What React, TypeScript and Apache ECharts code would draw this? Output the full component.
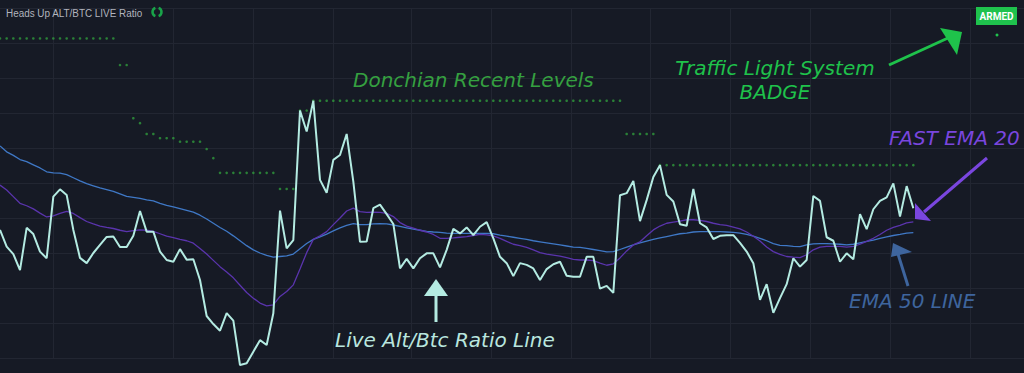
import React, { useEffect, useRef } from "react";
import * as echarts from "echarts";

// ---- data (arbitrary ratio units) ----
const ratioLine = [
  3.66, 3.18, 2.97, 2.51, 3.72, 3.54, 3.04, 2.85, 4.61, 4.82,
  4.66, 3.66, 2.86, 2.71, 3.0, 3.23, 3.46, 3.47, 3.17, 3.17,
  3.49, 4.2, 3.61, 3.61, 3.04, 2.8, 2.75, 3.11, 2.81, 2.82,
  2.23, 1.2, 0.97, 0.78, 1.28, 1.07, -0.2, -0.15, 0.18, 0.51,
  0.37, 1.28, 4.21, 3.13, 3.37, 7.07, 6.47, 7.35, 5.09, 4.72,
  5.66, 5.8, 6.4, 5.04, 3.32, 3.33, 4.28, 4.38, 4.11, 3.83,
  2.56, 2.83, 2.56, 2.85, 2.99, 2.99, 2.59, 3.09, 3.69, 3.56,
  3.73, 3.51, 3.75, 3.88, 3.42, 2.89, 2.71, 2.34, 2.71, 2.66,
  2.56, 2.23, 2.54, 2.68, 2.75, 2.35, 2.32, 2.32, 2.89, 2.89,
  1.98, 2.06, 1.86, 4.65, 4.71, 5.06, 3.91, 4.51, 5.17, 5.51,
  4.66, 4.47, 3.82, 3.78, 4.83, 3.85, 3.73, 3.4, 3.49, 3.51,
  3.51, 3.29, 3.04, 2.71, 1.66, 2.11, 1.29, 1.71, 2.11, 2.85,
  2.61, 2.8, 4.63, 4.49, 3.45, 3.35, 2.75, 2.99, 2.82, 4.11,
  3.68, 4.25, 4.49, 4.59, 4.99, 4.04, 4.91, 4.28,
];

const emaFast20 = [
  4.94, 4.8, 4.61, 4.42, 4.35, 4.26, 4.14, 4.03, 4.06, 4.13,
  4.19, 4.13, 4.01, 3.9, 3.83, 3.77, 3.73, 3.7, 3.65, 3.61,
  3.64, 3.66, 3.65, 3.62, 3.55, 3.48, 3.44, 3.39, 3.35, 3.28,
  3.13, 2.97, 2.79, 2.61, 2.46, 2.29, 2.08, 1.87, 1.71, 1.57,
  1.49, 1.52, 1.76, 1.9, 2.09, 2.54, 3.01, 3.39, 3.49, 3.61,
  3.81, 4.0, 4.2, 4.28, 4.18, 4.16, 4.17, 4.16, 4.13, 4.04,
  3.87, 3.77, 3.71, 3.65, 3.6, 3.53, 3.42, 3.42, 3.43, 3.45,
  3.47, 3.5, 3.53, 3.52, 3.49, 3.42, 3.33, 3.25, 3.21, 3.16,
  3.09, 3.01, 2.97, 2.94, 2.91, 2.87, 2.82, 2.8, 2.8, 2.78,
  2.71, 2.65, 2.69, 2.86, 3.06, 3.23, 3.32, 3.49, 3.66, 3.77,
  3.85, 3.88, 3.91, 3.95, 3.95, 3.93, 3.9, 3.85, 3.81, 3.79,
  3.74, 3.69, 3.6, 3.48, 3.34, 3.17, 3.04, 2.96, 2.9, 2.88,
  2.87, 2.95, 3.09, 3.17, 3.19, 3.19, 3.19, 3.17, 3.19, 3.25,
  3.33, 3.42, 3.53, 3.65, 3.73, 3.79, 3.86, 3.89,
];

const ema50 = [
  6.06, 5.89, 5.79, 5.67, 5.61, 5.52, 5.43, 5.32, 5.29, 5.28,
  5.24, 5.15, 5.06, 4.98, 4.92, 4.86, 4.81, 4.76, 4.69, 4.62,
  4.59, 4.56, 4.52, 4.49, 4.42, 4.36, 4.32, 4.27, 4.22, 4.17,
  4.08, 3.97, 3.85, 3.73, 3.62, 3.49, 3.35, 3.21, 3.09, 3.0,
  2.93, 2.88, 2.9, 2.92, 2.97, 3.12, 3.27, 3.39, 3.46, 3.54,
  3.63, 3.72, 3.79, 3.84, 3.81, 3.81, 3.83, 3.84, 3.83, 3.8,
  3.76, 3.72, 3.68, 3.65, 3.62, 3.6, 3.59, 3.57, 3.56, 3.56,
  3.56, 3.56, 3.56, 3.56, 3.55, 3.51, 3.48, 3.45, 3.42, 3.39,
  3.35, 3.32, 3.29, 3.26, 3.23, 3.2, 3.17, 3.16, 3.13, 3.1,
  3.07, 3.03, 3.04, 3.1, 3.17, 3.23, 3.29, 3.34, 3.39, 3.43,
  3.47, 3.51, 3.55, 3.57, 3.6, 3.61, 3.61, 3.61, 3.61, 3.6,
  3.59, 3.57, 3.53, 3.48, 3.42, 3.35, 3.27, 3.22, 3.21, 3.19,
  3.18, 3.23, 3.26, 3.27, 3.27, 3.26, 3.25, 3.23, 3.25, 3.29,
  3.33, 3.37, 3.42, 3.46, 3.5, 3.53, 3.57, 3.58,
];

const donchianUpper = [
  9.13, 9.13, 9.13, 9.13, 9.13, 9.13, 9.13, 9.13, 9.13, 9.13,
  9.13, 9.13, 9.13, 9.13, 9.13, 9.13, 9.13, 9.13, 8.37, 8.37,
  6.85, 6.71, 6.4, 6.4, 6.28, 6.28, 6.28, 6.18, 6.18, 6.18,
  6.18, 5.97, 5.71, 5.29, 5.29, 5.29, 5.29, 5.29, 5.29, 5.29,
  5.29, 5.29, 4.83, 4.83, 4.83, 7.07, 7.07, 7.35, 7.35, 7.35,
  7.35, 7.35, 7.35, 7.35, 7.35, 7.35, 7.35, 7.35, 7.35, 7.35,
  7.35, 7.35, 7.35, 7.35, 7.35, 7.35, 7.35, 7.35, 7.35, 7.35,
  7.35, 7.35, 7.35, 7.35, 7.35, 7.35, 7.35, 7.35, 7.35, 7.35,
  7.35, 7.35, 7.35, 7.35, 7.35, 7.35, 7.35, 7.35, 7.35, 7.35,
  7.35, 7.35, 7.35, 7.35, 6.4, 6.4, 6.4, 6.4, 6.4, 5.51,
  5.51, 5.51, 5.51, 5.51, 5.51, 5.51, 5.51, 5.51, 5.51, 5.51,
  5.51, 5.51, 5.51, 5.51, 5.51, 5.51, 5.51, 5.51, 5.51, 5.51,
  5.51, 5.51, 5.51, 5.51, 5.51, 5.51, 5.51, 5.51, 5.51, 5.51,
  5.51, 5.51, 5.51, 5.51, 5.51, 5.51, 5.51, 5.51,
];

// bar positions of the time grid lines (in bar index units)
const timeGridBars = [8, 26, 38, 50, 61.75, 73.75, 85.75, 97.5, 109.5, 121.5, 133.5, 145.5];

const titleText = "Heads Up ALT/BTC LIVE Ratio";
const badgeText = "ARMED";

const BG = "#161a25";
const GRID = "#222632";
const C_RATIO = "#b4ebe2";
const C_FAST = "#5a34ad";
const C_SLOW = "#3f78c6";
const C_DON = "#2f9a3c";

const toPairs = (arr: number[]) => arr.map((v, i) => [i, v]);

export default function App() {
  const ref = useRef<HTMLDivElement>(null);
  useEffect(() => {
    if (!ref.current) return;
    const chart = echarts.init(ref.current, null, { renderer: "svg" });
    const ann = 'oblique 20px "DejaVu Sans"';
    const txt = (x: number, y: number, text: string, fill: string, font: string, align = "left", extra: any = {}) => ({
      type: "text",
      x,
      y,
      silent: true,
      z: 20,
      style: { text, fill, font, textAlign: align, textVerticalAlign: "middle", ...extra },
    });
    const arrowLine = (x1: number, y1: number, x2: number, y2: number, stroke: string) => ({
      type: "line",
      silent: true,
      z: 20,
      shape: { x1, y1, x2, y2 },
      style: { stroke, lineWidth: 3 },
    });
    const head = (pts: number[][], fill: string) => ({
      type: "polygon",
      silent: true,
      z: 20,
      shape: { points: pts },
      style: { fill },
    });
    const iconArc = (a0: number, a1: number) => ({
      type: "arc",
      silent: true,
      z: 20,
      shape: { cx: 157, cy: 12, r: 4.5, startAngle: a0, endAngle: a1 },
      style: { stroke: "#19a349", lineWidth: 2.5, fill: "none" },
    });

    chart.setOption({
      animation: false,
      backgroundColor: BG,
      grid: { left: 0, right: 0, top: 8, bottom: 15 },
      xAxis: {
        type: "value",
        min: 0,
        max: 153.6,
        axisLine: { show: false },
        axisTick: { show: false },
        axisLabel: { show: false },
        splitLine: { show: false },
      },
      yAxis: {
        type: "value",
        min: 0,
        max: 10,
        interval: 1,
        axisLine: { show: false },
        axisTick: { show: false },
        axisLabel: { show: false },
        splitLine: { show: true, lineStyle: { color: GRID, width: 1 } },
      },
      series: [
        {
          type: "scatter",
          name: "Donchian",
          data: toPairs(donchianUpper),
          symbol: "circle",
          symbolSize: 2.6,
          itemStyle: { color: C_DON },
          silent: true,
          z: 3,
          markLine: {
            silent: true,
            symbol: "none",
            label: { show: false },
            lineStyle: { color: GRID, width: 1, type: "solid" },
            data: timeGridBars.map((b) => ({ xAxis: b })),
            z: 1,
          },
        },
        {
          type: "line",
          name: "EMA 50",
          data: toPairs(ema50),
          showSymbol: false,
          clip: false,
          lineStyle: { color: C_SLOW, width: 1.3 },
          z: 4,
        },
        {
          type: "line",
          name: "EMA 20",
          data: toPairs(emaFast20),
          showSymbol: false,
          clip: false,
          lineStyle: { color: C_FAST, width: 1.3 },
          z: 5,
        },
        {
          type: "line",
          name: "Ratio",
          data: toPairs(ratioLine),
          showSymbol: false,
          clip: false,
          lineStyle: { color: C_RATIO, width: 2 },
          z: 6,
        },
      ],
      graphic: [
        { ...txt(6, 13, titleText, "#b2b5be", '11px "Liberation Sans"'), scaleX: 0.9 },
        iconArc(-1.2, 1.2),
        iconArc(1.94, 4.34),
        // badge
        { type: "rect", silent: true, z: 20, shape: { x: 976, y: 7, width: 41, height: 18 }, style: { fill: "#1fc24d" } },
        txt(996.5, 16.5, badgeText, "#ffffff", 'bold 10px "Liberation Sans Narrow", "Roboto"', "center"),
        { type: "circle", silent: true, z: 20, shape: { cx: 997, cy: 35, r: 1.5 }, style: { fill: "#1fc24d" } },
        // annotations
        txt(353, 80, "Donchian Recent Levels", "#35a040", ann),
        txt(775, 80, "Traffic Light System\nBADGE", "#1fc24b", ann, "center", { lineHeight: 24 }),
        arrowLine(889, 65, 948, 38, "#1fc24b"),
        head([[940, 28], [962, 32], [957, 55]], "#1fc24b"),
        txt(889, 138, "FAST EMA 20", "#7a46df", ann),
        arrowLine(987, 158, 924, 212, "#7a46df"),
        head([[915, 203], [931, 221], [915, 219]], "#7a46df"),
        txt(849, 301, "EMA 50 LINE", "#3e659e", ann),
        arrowLine(908, 286, 898, 254, "#3e659e"),
        head([[891, 257], [893, 243], [912, 252]], "#3e659e"),
        txt(335, 340, "Live Alt/Btc Ratio Line", "#b9e6df", ann),
        arrowLine(436, 322, 436, 294, "#b4ebe2"),
        head([[424, 296], [448, 296], [436, 279]], "#b4ebe2"),
      ],
    });
    return () => chart.dispose();
  }, []);
  return (
    <div
      ref={ref}
      style={{ position: "fixed", left: 0, top: 0, width: 1024, height: 373, background: BG }}
    />
  );
}
